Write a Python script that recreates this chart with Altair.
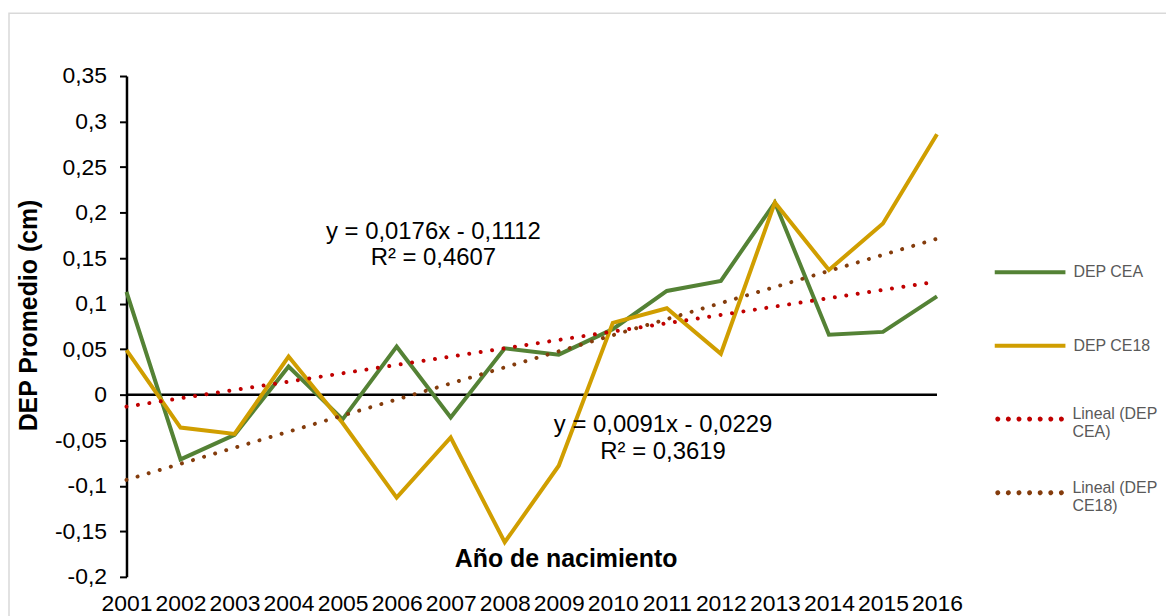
import altair as alt
import pandas as pd

years = list(range(2001, 2017))
dep_cea = [0.113, -0.071, -0.044, 0.031, -0.027, 0.053, -0.025, 0.051, 0.044, 0.072,
           0.114, 0.125, 0.211, 0.066, 0.069, 0.108]
dep_ce18 = [0.049, -0.036, -0.043, 0.042, -0.031, -0.113, -0.047, -0.162, -0.078, 0.079,
            0.095, 0.045, 0.211, 0.137, 0.188, 0.286]
series_names = ["DEP CEA", "DEP CE18"]
series_colors = ["#548235", "#D09E00"]
trend_names = ["Lineal (DEP CEA)", "Lineal (DEP CE18)"]
trend_colors = ["#C00000", "#843C0C"]
y_ticks = [-0.2, -0.15, -0.1, -0.05, 0, 0.05, 0.1, 0.15, 0.2, 0.25, 0.3, 0.35]

eq_texts = ["y = 0,0176x - 0,1112", "R² = 0,4607", "y = 0,0091x - 0,0229", "R² = 0,3619"]
eq_year = [2006.68, 2006.68, 2010.93, 2010.93]
eq_value = [0.179, 0.150, -0.033, -0.063]

FONT = "Liberation Sans"

rows = []
for s, vals in [("DEP CEA", dep_cea), ("DEP CE18", dep_ce18)]:
    for yr, v in zip(years, vals):
        rows.append({"year": yr, "value": v, "series": s})
df = pd.DataFrame(rows)
eq_df = pd.DataFrame({"year": eq_year, "value": eq_value, "text": eq_texts})

xscale = alt.Scale(domain=[2001, 2016], nice=False, zero=False)
yscale = alt.Scale(domain=[-0.2, 0.35], nice=False, zero=False)

# dotted legend symbol: row of small circles in the unit square
dots = " ".join(
    f"M{c - 0.035:.3f},0 a0.035,0.035 0 1,0 0.07,0 a0.035,0.035 0 1,0 -0.07,0 Z"
    for c in [-0.9, -0.6, -0.3, 0.0, 0.3, 0.6, 0.9]
)

def make_legend(legend_y, trend_color=None):
    kw = dict(
        title=None, orient="none", legendX=870, legendY=legend_y, symbolSize=5041,
        labelFont=FONT, labelFontSize=16, labelColor="#595959", labelOffset=6,
        labelLimit=300, padding=0,
    )
    if trend_color is None:
        kw.update(symbolType="stroke", symbolStrokeWidth=4)
    else:
        kw.update(symbolType=dots, symbolStrokeWidth=2.5, symbolDash=[1, 0],
                  symbolFillColor=trend_color, symbolStrokeColor=trend_color,
                  labelBaseline="alphabetic",
                  labelExpr="[slice(datum.label, 0, 11), slice(datum.label, 12)]")
    return alt.Legend(**kw)

x_enc = alt.X("year:Q", scale=xscale, title="Año de nacimiento",
              axis=alt.Axis(values=years, format="d", domain=False, ticks=False, grid=False,
                            labelFont=FONT, labelFontSize=23, labelColor="black",
                            labelBaseline="middle", labelPadding=27, labelFlush=False,
                            labelOverlap=False,
                            titleFont=FONT, titleFontSize=25, titleFontWeight="bold",
                            titleColor="black", titleY=-18, titleX=441, titleBaseline="middle",
                            titleAlign="center", titleAnchor="start"))
y_enc = alt.Y("value:Q", scale=yscale, title="DEP Promedio (cm)",
              axis=alt.Axis(values=y_ticks, grid=False, domainColor="black", domainWidth=2.5,
                            tickColor="black", tickWidth=2, tickSize=7,
                            labelExpr="replace(toString(datum.value), '.', ',')",
                            labelFont=FONT, labelFontSize=23, labelColor="black",
                            labelPadding=13, labelFlush=False,
                            titleFont=FONT, titleFontSize=25, titleFontWeight="bold",
                            titleColor="black", titlePadding=12, titleX=-85, titleY=240,
                            titleAlign="center"))

border = alt.Chart(alt.Data(values=[{}])).mark_rect(
    fillOpacity=0, stroke="#d9d9d9", strokeWidth=1.5
).encode(x=alt.value(-118), x2=alt.value(1060), y=alt.value(-63), y2=alt.value(620))

zero_line = alt.Chart(alt.Data(values=[{"value": 0}])).mark_rule(
    color="black", strokeWidth=2.5).encode(y=y_enc, x=alt.value(0), x2=alt.value(814))

legend_centers = [270, 344, 418, 492]
layers = []
for i, name in enumerate(series_names):
    layers.append(
        alt.Chart(df).transform_filter(alt.datum.series == name).mark_line(
            strokeWidth=4, strokeCap="butt", strokeJoin="miter").encode(
            x=x_enc, y=y_enc,
            color=alt.Color("series:N",
                            scale=alt.Scale(domain=[name], range=[series_colors[i]]),
                            legend=make_legend(legend_centers[i] - 110.5)),
            order=alt.Order("year:Q")))
for i, name in enumerate(series_names):
    layers.append(
        alt.Chart(df).transform_filter(alt.datum.series == name)
        .transform_regression("year", "value")
        .transform_calculate(trend="'" + trend_names[i] + "'")
        .mark_line(strokeWidth=4, strokeCap="round", strokeDash=[0.01, 11.6]).encode(
            x=x_enc, y=y_enc,
            color=alt.Color("trend:N",
                            scale=alt.Scale(domain=[trend_names[i]], range=[trend_colors[i]]),
                            legend=make_legend(legend_centers[i + 2] - 110.5, trend_colors[i]))))

eqs = alt.Chart(eq_df).mark_text(font=FONT, fontSize=24, color="black", align="center",
                                 baseline="middle").encode(x=x_enc, y=y_enc, text="text:N")

chart = alt.layer(border, zero_line, *layers, eqs).resolve_scale(
    color="independent"
).properties(
    width=814, height=503,
    padding={"left": 119, "top": 67, "right": 230, "bottom": 38},
    autosize=alt.AutoSizeParams(type="none"),
    background="white",
).configure_view(stroke="transparent", strokeWidth=0)

chart.save("out.html", embed_options={"renderer": "svg", "actions": False})
